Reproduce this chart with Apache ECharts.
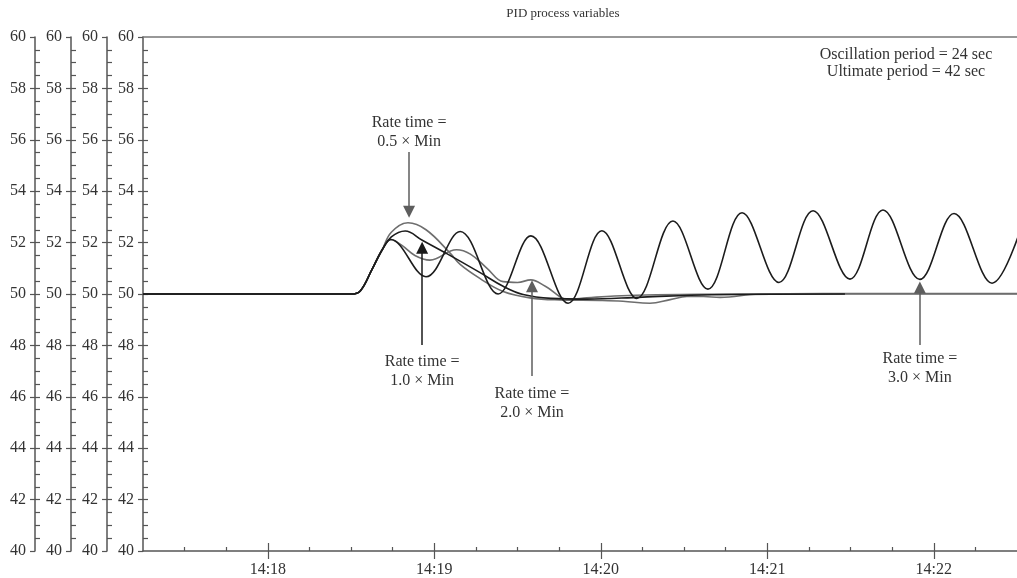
<!DOCTYPE html>
<html><head><meta charset="utf-8">
<script src="https://cdn.jsdelivr.net/npm/echarts@6/dist/echarts.min.js"></script>
<style>html,body{margin:0;padding:0;background:#fff}#c{width:1017px;height:578px}</style>
</head><body><div id="c"></div>
<script>
// time axis: seconds after 14:17:00
const xMin = 15, xMax = 330;
const xTickTimes = [60, 120, 180, 240, 300];
const xTickLabels = ['14:18', '14:19', '14:20', '14:21', '14:22'];
const xMinorTimes = [30, 45, 75, 90, 105, 135, 150, 165, 195, 210, 225, 255, 270, 285, 315];
const yMin = 40, yMax = 60, yStep = 2, yMinorStep = 0.5;

// shared baseline and rise
const tCommon = [15, 90, 93.3, 97.5, 101.2];
const vCommon = [50, 50, 50.12, 50.95, 51.72];

// Rate time = 0.5 x Min (gray)
const tRate05 = [104.5, 110.5, 117, 125.6, 129.3, 136.5, 144.8, 154.5, 165.3, 179.7, 188, 197.7, 205, 211, 217, 223, 237, 260, 330];
const vRate05 = [52.4, 52.77, 52.5, 51.6, 51.15, 50.6, 50.1, 49.85, 49.77, 49.75, 49.72, 49.64, 49.78, 49.9, 49.9, 49.87, 50.0, 50.02, 50.02];

// Rate time = 2.0 x Min (gray)
const tRate20 = [104.3, 108.2, 113, 118.4, 128, 133, 139, 144.8, 150, 154.8, 160, 168.2, 175, 185, 200, 230, 330];
const vRate20 = [52.12, 51.9, 51.5, 51.32, 51.72, 51.55, 51.0, 50.48, 50.45, 50.55, 50.3, 49.8, 49.85, 49.92, 49.97, 50.0, 50.0];

// Rate time = 1.0 x Min (black)
const tRate10 = [104.5, 109.5, 115.5, 124.5, 136.5, 144.8, 152, 162, 175, 195, 220, 268];
const vRate10 = [52.22, 52.45, 52.1, 51.57, 50.83, 50.3, 49.98, 49.83, 49.8, 49.88, 49.97, 50.0];

// Rate time = 3.0 x Min (black, oscillating): peaks and troughs
const tRate30 = [104.3, 117, 129.3, 143, 154.8, 168.2, 180.4, 193, 206, 218.6, 230.9, 244.2, 256.5, 269.8, 281.7, 295, 307.3, 321, 333];
const vRate30 = [52.12, 50.67, 52.43, 50.0, 52.26, 49.64, 52.46, 49.83, 52.84, 50.19, 53.16, 50.45, 53.24, 50.58, 53.27, 50.57, 53.13, 50.42, 53.1];

// annotation arrows: time, start value, end value
const arrow05 = [110.9, 55.53, 53.2];
const arrow10 = [115.6, 48.02, 51.8];
const arrow20 = [155.2, 46.81, 50.3];
const arrow30 = [295.0, 48.02, 50.25];

const FONT = '"Liberation Serif", "Times New Roman", serif';
const AXIS_COLOR = '#555';
const TEXT_COLOR = '#333';
const GRAY = '#6e6e6e';
const BLACK = '#1c1c1c';

function pairs(t, v) { return t.map((x, i) => [x, v[i]]); }
function withCommon(t, v) { return pairs(tCommon.concat(t), vCommon.concat(v)); }

const innerTicks = [];
for (let y = yMin + yMinorStep; y < yMax; y += yMinorStep) innerTicks.push(y);

const yOffsets = [108, 72, 36, 0];
const yAxes = [];
yOffsets.forEach(off => {
  yAxes.push({
    type: 'value', min: yMin, max: yMax, interval: yStep, position: 'left', offset: off,
    axisLine: { show: true, lineStyle: { color: AXIS_COLOR, width: 1.5 } },
    axisTick: { show: true, inside: false, length: 5, lineStyle: { color: AXIS_COLOR, width: 1.2 } },
    axisLabel: { show: true, color: TEXT_COLOR, fontFamily: FONT, fontSize: 16, margin: 9 },
    splitLine: { show: false }
  });
  yAxes.push({
    type: 'value', min: yMin, max: yMax, position: 'left', offset: off,
    axisLine: { show: false },
    axisTick: { show: true, inside: true, length: 5, customValues: innerTicks, lineStyle: { color: AXIS_COLOR, width: 1.2 } },
    axisLabel: { show: false },
    splitLine: { show: false }
  });
});
const mainY = yAxes.length - 2;

const xBase = { type: 'value', min: xMin, max: xMax, splitLine: { show: false } };
const xAxes = [
  Object.assign({}, xBase, {
    position: 'bottom',
    axisLine: { show: true, onZero: false, lineStyle: { color: AXIS_COLOR, width: 1.5 } },
    axisTick: { show: true, inside: false, length: 8, customValues: xTickTimes, lineStyle: { color: AXIS_COLOR, width: 1.2 } },
    axisLabel: { show: true, customValues: xTickTimes, color: TEXT_COLOR, fontFamily: FONT, fontSize: 16, margin: 11,
      formatter: v => xTickLabels[xTickTimes.indexOf(v)] || '' }
  }),
  Object.assign({}, xBase, {
    position: 'bottom',
    axisLine: { show: false, onZero: false },
    axisTick: { show: true, inside: true, length: 8, customValues: xTickTimes, lineStyle: { color: AXIS_COLOR, width: 1.2 } },
    axisLabel: { show: false }
  }),
  Object.assign({}, xBase, {
    position: 'bottom',
    axisLine: { show: false, onZero: false },
    axisTick: { show: true, inside: true, length: 4, customValues: xMinorTimes, lineStyle: { color: AXIS_COLOR, width: 1.2 } },
    axisLabel: { show: false }
  }),
  Object.assign({}, xBase, {
    position: 'top',
    axisLine: { show: true, onZero: false, lineStyle: { color: '#777', width: 1.5 } },
    axisTick: { show: false },
    axisLabel: { show: false }
  })
];

function arrowMark(a, color, text, dist) {
  return {
    silent: true, animation: false,
    symbol: ['none', 'triangle'], symbolSize: 12,
    lineStyle: { color: color, width: 1.5, type: 'solid' },
    itemStyle: { color: color },
    label: { show: true, position: 'start', formatter: text, color: TEXT_COLOR, fontFamily: FONT, fontSize: 16, lineHeight: 19, distance: dist, align: 'center' },
    emphasis: { disabled: true },
    data: [[{ coord: [a[0], a[1]] }, { coord: [a[0], a[2]] }]]
  };
}

function lineSeries(name, data, color, smooth, arrow, arrowColor, text, dist) {
  return {
    name: name, type: 'line', xAxisIndex: 0, yAxisIndex: mainY,
    data: data, smooth: smooth, showSymbol: false, symbol: 'none',
    lineStyle: { color: color, width: 1.6 }, itemStyle: { color: color },
    animation: false, silent: true,
    markLine: arrowMark(arrow, arrowColor, text, dist)
  };
}

const chart = echarts.init(document.getElementById('c'), null, { renderer: 'canvas' });
chart.setOption({
  backgroundColor: '#fff',
  animation: false,
  grid: { left: 143, right: 0, top: 37, bottom: 27, containLabel: false },
  xAxis: xAxes,
  yAxis: yAxes,
  graphic: [
    { type: 'text', x: 563, y: 14, style: { text: 'PID process variables', fill: TEXT_COLOR, fontFamily: FONT, fontSize: 13, textAlign: 'center', textVerticalAlign: 'middle' } },
    { type: 'text', x: 906, y: 63, style: { text: 'Oscillation period = 24 sec\nUltimate period = 42 sec', fill: TEXT_COLOR, fontFamily: FONT, fontSize: 16, lineHeight: 17, textAlign: 'center', textVerticalAlign: 'middle' } }
  ],
  series: [
    lineSeries('Rate time = 0.5 × Min', withCommon(tRate05, vRate05), GRAY, 0.4, arrow05, '#5e5e5e', 'Rate time =\n0.5 × Min', 1),
    lineSeries('Rate time = 2.0 × Min', withCommon(tRate20, vRate20), GRAY, 0.4, arrow20, '#5e5e5e', 'Rate time =\n2.0 × Min', 8),
    lineSeries('Rate time = 1.0 × Min', withCommon(tRate10, vRate10), BLACK, 0.4, arrow10, '#1a1a1a', 'Rate time =\n1.0 × Min', 7.5),
    lineSeries('Rate time = 3.0 × Min', withCommon(tRate30, vRate30), BLACK, 0.37, arrow30, '#5e5e5e', 'Rate time =\n3.0 × Min', 4)
  ]
});
</script>
</body></html>
